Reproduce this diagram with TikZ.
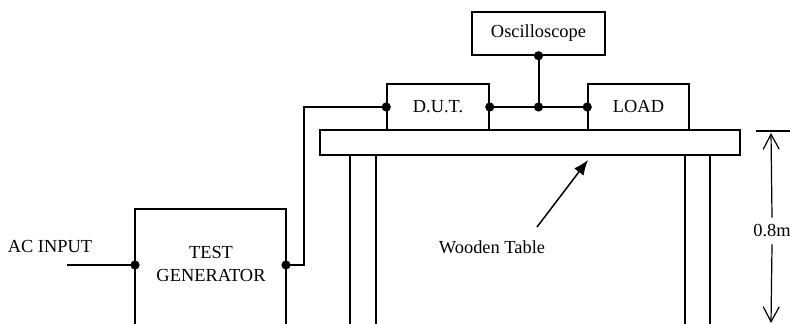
\documentclass[tikz,border=0pt]{standalone}
\usepackage{fontspec}
\setmainfont{Liberation Serif}
\usetikzlibrary{arrows.meta}
\begin{document}
\begin{tikzpicture}[x=0.5pt, y=-0.5pt, font=\fontsize{9.2}{11.5}\selectfont]
\tikzstyle{box} = [draw, line width=0.75pt, inner sep=0pt]
\tikzstyle{wire} = [line width=1pt]
\tikzstyle{point} = [circle, minimum width=4.6pt, fill, inner sep=0pt]
\tikzstyle{dimarrow} = [line width=0.6pt, -{Straight Barb[length=7.5pt, width=8pt]}]
\useasboundingbox (0,0) rectangle (790,324);

% table
\node[box, minimum width=210pt, minimum height=12.5pt] (table) at (530,142.5) {};
\draw[line width=0.75pt] (350,155) -- (350,324) (376,155) -- (376,324);
\draw[line width=0.75pt] (685,155) -- (685,324) (710,155) -- (710,324);

% boxes on the table
\node[box, minimum width=51pt, minimum height=23pt] (dut) at (438,107) {D.U.T.};
\node[box, minimum width=50.5pt, minimum height=23pt] (load) at (638.5,107) {LOAD};
\node[box, minimum width=66.5pt, minimum height=21.5pt] (osc) at (538.5,33.5) {Oscilloscope};

% test generator (open at the bottom)
\draw[line width=0.75pt] (135,324) |- (286,209) -- (286,324);
\node[align=center] (gen) at (211,264) {TEST\\GENERATOR};
\coordinate (gin) at (135,265);
\coordinate (gout) at (286,265);
\coordinate (acin) at (67,265);
\node (ac) at (50,247) {AC INPUT};

% wiring
\coordinate (j) at (osc.south |- dut.east);
\draw[wire] (acin) -- (gin);
\draw[wire] (gout) -- ++(18,0) |- (dut.west);
\draw[wire] (dut.east) -- (load.west);
\draw[wire] (j) -- (osc.south);
\foreach \p in {gin, gout, dut.west, dut.east, j, load.west, osc.south}
  \node[point] at (\p) {};

% label for the table
\node (wt) at (492,247) {Wooden Table};
\coordinate (wtail) at (537,227);
\coordinate (whead) at (588,160);
\draw[line width=0.75pt, -{Latex[length=7.5pt, width=6pt]}] (wtail) -- (whead);

% height of the table
\draw[line width=0.75pt] (756,131) -- (790,131);
\node (dim) at (772,231) {0.8m};
\draw[dimarrow] (dim.north) -- (771,133);
\draw[dimarrow] (dim.south) -- (771,323);
\end{tikzpicture}
\end{document}
